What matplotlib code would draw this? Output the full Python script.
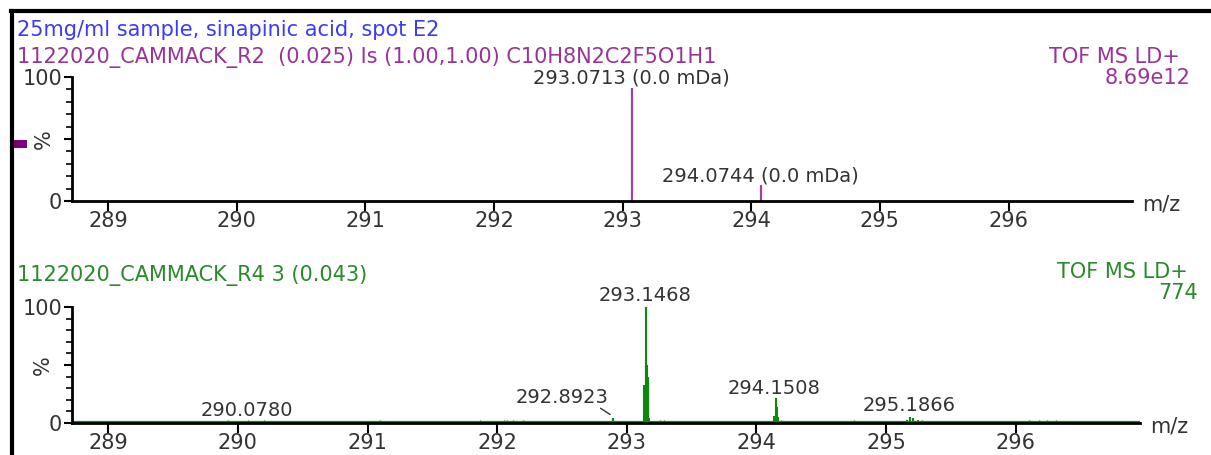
import matplotlib
matplotlib.use("Agg")
import matplotlib.pyplot as plt
from matplotlib.patches import Rectangle
from matplotlib.lines import Line2D

plt.rcParams['font.family'] = ['DejaVu Sans']

W, H = 1211, 455

# --- data ---
header = "25mg/ml sample, sinapinic acid, spot E2"
top_title = "1122020_CAMMACK_R2  (0.025) Is (1.00,1.00) C10H8N2C2F5O1H1"
bot_title = "1122020_CAMMACK_R4 3 (0.043)"
top_scale = "8.69e12"
bot_scale = "774"

# theoretical isotope pattern (top)
iso_mz = [293.0713, 294.0744]
iso_int = [91, 13]
iso_err = ["0.0 mDa", "0.0 mDa"]

# measured spectrum (bottom): profile sticks
spec_mz = [293.133, 293.1468, 293.152, 293.157, 293.162, 293.167, 293.175,
           294.140, 294.1508, 294.158, 294.165,
           292.8923, 295.165, 295.1866, 295.21, 295.25]
spec_int = [33, 100, 52, 50, 40, 8, 4,
            6, 21.5, 14, 5,
            4, 3, 5, 4, 3]
# baseline noise sticks
noise_mz = [288.76, 289.04, 289.12, 289.20, 289.27, 289.45, 289.71, 289.84, 289.92,
            290.00, 290.08, 290.12, 290.20, 290.27, 290.42, 290.53,
            291.02, 291.10, 291.18, 291.25, 291.40, 291.66, 291.78, 291.87,
            292.05, 292.08, 292.12, 292.20, 292.25, 292.56, 293.00,
            293.22, 293.26, 293.29, 293.31, 293.88, 293.95, 294.03,
            294.19, 294.24, 294.29, 294.42, 294.55, 294.75, 294.82,
            295.10, 295.28, 295.72, 295.80, 296.10, 296.18, 296.24, 296.31,
            296.36, 296.43]
noise_int = [1.5, 2, 1.5, 2, 1.5, 2, 1.5, 2, 2.5,
             2, 3, 2, 2.5, 1.5, 1.5, 1.5,
             2, 2.5, 2, 1.5, 1.5, 2, 2, 2.5,
             3, 3, 2.5, 3, 2, 2, 2,
             2, 3, 3, 2, 1.5, 2, 2,
             2.5, 2, 2, 1.5, 2, 2.5, 1.5,
             2, 3, 2, 2, 2.5, 3, 2.5, 2.5,
             1.5, 2]

peak_mz = [290.0780, 292.8923, 293.1468, 294.1508, 295.1866]

xmin, xmax = 288.72, 296.96
xticks = [289, 290, 291, 292, 293, 294, 295, 296]

blue = '#3a3aff'
purple = '#993399'
dark_purple = '#7f007f'
green_txt = '#2a8a2a'
green = '#0a8a0a'
txt = '#333333'
fs = 15
fs_lab = 14

fig = plt.figure(figsize=(W / 100, H / 100), dpi=100)


def fx(px):
    return px / W


def fy(py):
    return 1 - py / H


def style_axes(ax):
    ax.set_xlim(xmin, xmax)
    ax.set_ylim(0, 100)
    for s in ['top', 'right']:
        ax.spines[s].set_visible(False)
    for s in ['left', 'bottom']:
        ax.spines[s].set_linewidth(2)
    ax.set_xticks(xticks)
    ax.set_xticklabels([str(t) for t in xticks], fontsize=fs, color=txt)
    ax.set_yticks([0, 50, 100])
    ax.set_yticklabels(['0', '', '100'], fontsize=fs, color=txt)
    ax.set_yticks(range(10, 100, 10), minor=True)
    ax.tick_params(axis='x', direction='out', length=7, width=1.5, pad=0)
    ax.tick_params(axis='y', which='major', direction='out', length=6, width=1.5, pad=1)
    ax.tick_params(axis='y', which='minor', direction='out', length=4, width=1.2)
    ax.text(-0.027, 0.5, '%', rotation=90, transform=ax.transAxes,
            ha='center', va='center', fontsize=fs, color=txt)
    ax.patch.set_alpha(0)


# top panel
ax1 = fig.add_axes([fx(72), fy(201), fx(1132 - 72), (201 - 77) / H])
style_axes(ax1)
ax1.vlines(iso_mz, 0, iso_int, color='#a040a0', lw=1.6)
ax1.text(iso_mz[0], 99, f"{iso_mz[0]:.4f} ({iso_err[0]})", ha='center', va='center',
         fontsize=fs_lab, color=txt, clip_on=False)
ax1.text(iso_mz[1], 20, f"{iso_mz[1]:.4f} ({iso_err[1]})", ha='center', va='center',
         fontsize=fs_lab, color=txt, clip_on=False)

# bottom panel
ax2 = fig.add_axes([fx(72), fy(423), fx(1140 - 72), (423 - 307) / H])
style_axes(ax2)
ax2.plot([xmin, xmax], [1, 1], color=green, lw=1.6, zorder=1)
ax2.vlines(noise_mz, 0, noise_int, color=green, lw=1.0, zorder=1)
ax2.vlines(spec_mz, 0, spec_int, color=green, lw=1.5, zorder=1)

lab_y = [11, 22, 110, 30, 15.5]
lab_x = [290.07, 292.50, 293.14, 294.14, 295.18]
for m, lx, ly in zip(peak_mz, lab_x, lab_y):
    ax2.text(lx, ly, f"{m:.4f}", ha='center', va='center', fontsize=fs_lab,
             color=txt, clip_on=False)
ax2.annotate('', xy=(292.89, 6), xytext=(292.78, 14),
             arrowprops=dict(arrowstyle='-', color=txt, lw=1))

# headers
fig.text(fx(17), fy(30), header, color=blue, fontsize=fs, va='center')
fig.text(fx(17), fy(57), top_title, color=purple, fontsize=fs, va='center')
fig.text(fx(1180), fy(57), "TOF MS LD+", color=purple, fontsize=fs, va='center', ha='right')
fig.text(fx(1190), fy(78), top_scale, color=purple, fontsize=fs, va='center', ha='right')
fig.text(fx(17), fy(275), bot_title, color=green_txt, fontsize=fs, va='center')
fig.text(fx(1188), fy(272), "TOF MS LD+", color=green_txt, fontsize=fs, va='center', ha='right')
fig.text(fx(1198), fy(293), bot_scale, color=green_txt, fontsize=fs, va='center', ha='right')
fig.text(fx(1142), fy(205), "m/z", color=txt, fontsize=fs, va='center')
fig.text(fx(1150), fy(427), "m/z", color=txt, fontsize=fs, va='center')

# purple marker by the top % label
fig.patches.append(Rectangle((fx(13), fy(148)), fx(14), 8 / H, transform=fig.transFigure,
                             facecolor=dark_purple, edgecolor='none'))
# outer frame (top and left edges visible)
fig.add_artist(Line2D([fx(11), 1], [fy(11), fy(11)], color='black', lw=3))
fig.add_artist(Line2D([fx(12), fx(12)], [fy(11), 0], color='black', lw=3))

fig.savefig('out.png', dpi=100)
